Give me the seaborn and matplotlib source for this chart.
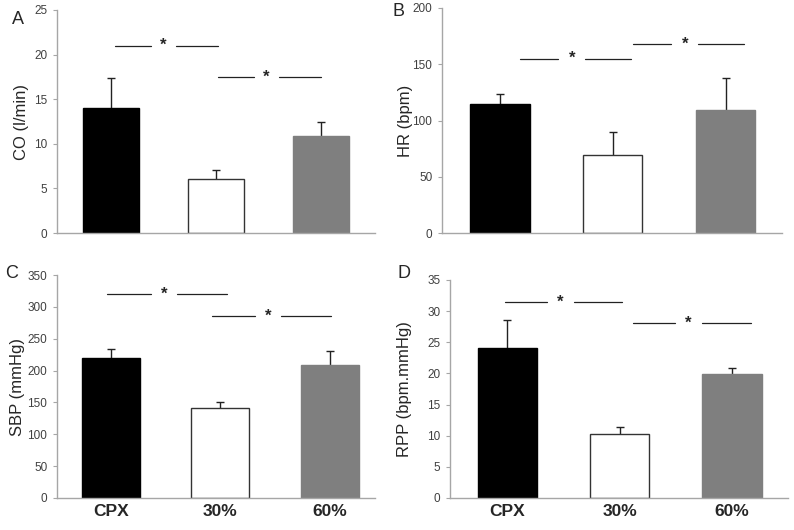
import numpy as np
import pandas as pd
import seaborn as sns
import matplotlib.pyplot as plt

# groups shown in every panel
groups = ["CPX", "30%", "60%"]
bar_colors = ["#000000", "#ffffff", "#7f7f7f"]

# mean values and (upper) error bars
co_mean = [14.0, 6.05, 10.9]
co_err = [3.4, 1.0, 1.6]
hr_mean = [115, 69.5, 109.5]
hr_err = [9, 20.5, 28.5]
sbp_mean = [220, 141, 209]
sbp_err = [14, 9, 22]
rpp_mean = [24.1, 10.3, 19.9]
rpp_err = [4.5, 1.1, 1.0]

# significance lines: (from, to, height) in category units / data units
co_sig = [(0.04, 1.02, 21.0), (1.02, 2.0, 17.5)]
hr_sig = [(0.18, 1.16, 155), (1.18, 2.16, 168)]
sbp_sig = [(-0.03, 1.06, 320), (0.92, 2.01, 285)]
rpp_sig = [(-0.02, 1.02, 31.5), (1.12, 2.17, 28.1)]

sns.set_style("white")
plt.rcParams['font.family'] = ['Liberation Sans', 'DejaVu Sans']

fig = plt.figure(figsize=(7.94, 5.30), dpi=100)
W, H = 794, 530


def px_axes(l, r, t, b):
    return fig.add_axes([l / W, 1 - b / H, (r - l) / W, (b - t) / H])


panels = [
    # letter, letter pos, axes px box, means, errs, sig, ylim, step, ylabel, ylabel x px, xlim, bottom row
    ("A", (18, 20), (57, 375, 10, 233), co_mean, co_err, co_sig, 25, 5, "CO (l/min)", 22, (-0.51, 2.51), False),
    ("B", (398, 12), (442, 782, 8, 233), hr_mean, hr_err, hr_sig, 200, 50, "HR (bpm)", 406, (-0.51, 2.5), False),
    ("C", (12, 273), (57, 375, 275, 498), sbp_mean, sbp_err, sbp_sig, 350, 50, "SBP (mmHg)", 18, (-0.49, 2.41), True),
    ("D", (404, 273), (450, 788, 280, 498), rpp_mean, rpp_err, rpp_sig, 35, 5, "RPP (bpm.mmHg)", 405, (-0.51, 2.5), True),
]

for letter, lpos, box, means, errs, sig, ymax, step, ylabel, ylx, xlim, bottom in panels:
    ax = px_axes(*box)
    df = pd.DataFrame({"group": groups, "value": means})
    sns.barplot(data=df, x="group", y="value", hue="group", palette=bar_colors,
                width=0.53, legend=False, ax=ax, saturation=1)
    for patch, c in zip(ax.patches, bar_colors):
        patch.set_edgecolor("#333333" if c == "#ffffff" else c)
        patch.set_linewidth(1.0)
        patch.set_zorder(2)
    eb = ax.errorbar(np.arange(3), means, yerr=[np.zeros(3), errs], fmt="none",
                     ecolor="#222222", elinewidth=1.0, capsize=3, capthick=1.0, zorder=1)
    eb[1][0].set_visible(False)

    gap = 0.12
    for x0, x1, y in sig:
        mid = (x0 + x1) / 2 - 0.03
        ax.plot([x0, mid - gap], [y, y], color="#222222", lw=0.9)
        ax.plot([mid + gap, x1], [y, y], color="#222222", lw=0.9)
        ax.text(mid, y, "*", ha="center", va="center", fontsize=12, fontweight="bold")

    ax.set_ylim(0, ymax)
    ax.set_yticks(np.arange(0, ymax + step / 2, step))
    ax.set_xlim(*xlim)
    ax.set_ylabel(ylabel, fontsize=12)
    ax.yaxis.set_label_coords((ylx + 7 - box[0]) / (box[1] - box[0]), 0.5)
    ax.set_xlabel("")
    for s in ["top", "right"]:
        ax.spines[s].set_visible(False)
    for s in ["left", "bottom"]:
        ax.spines[s].set_color("#a6a6a6")
        ax.spines[s].set_linewidth(1.0)
    ax.tick_params(axis="y", direction="out", length=3, color="#a6a6a6",
                   labelsize=8.5, labelcolor="#404040", pad=4, left=True)
    ax.tick_params(axis="x", length=0, pad=4)
    if bottom:
        ax.set_xticks(range(3))
        ax.set_xticklabels(groups, fontsize=12.5, fontweight="bold")
    else:
        ax.set_xticklabels([])
    fig.text(lpos[0] / W, 1 - lpos[1] / H, letter, fontsize=13, ha="center", va="center")

fig.savefig("out.png", dpi=100, facecolor="white")
